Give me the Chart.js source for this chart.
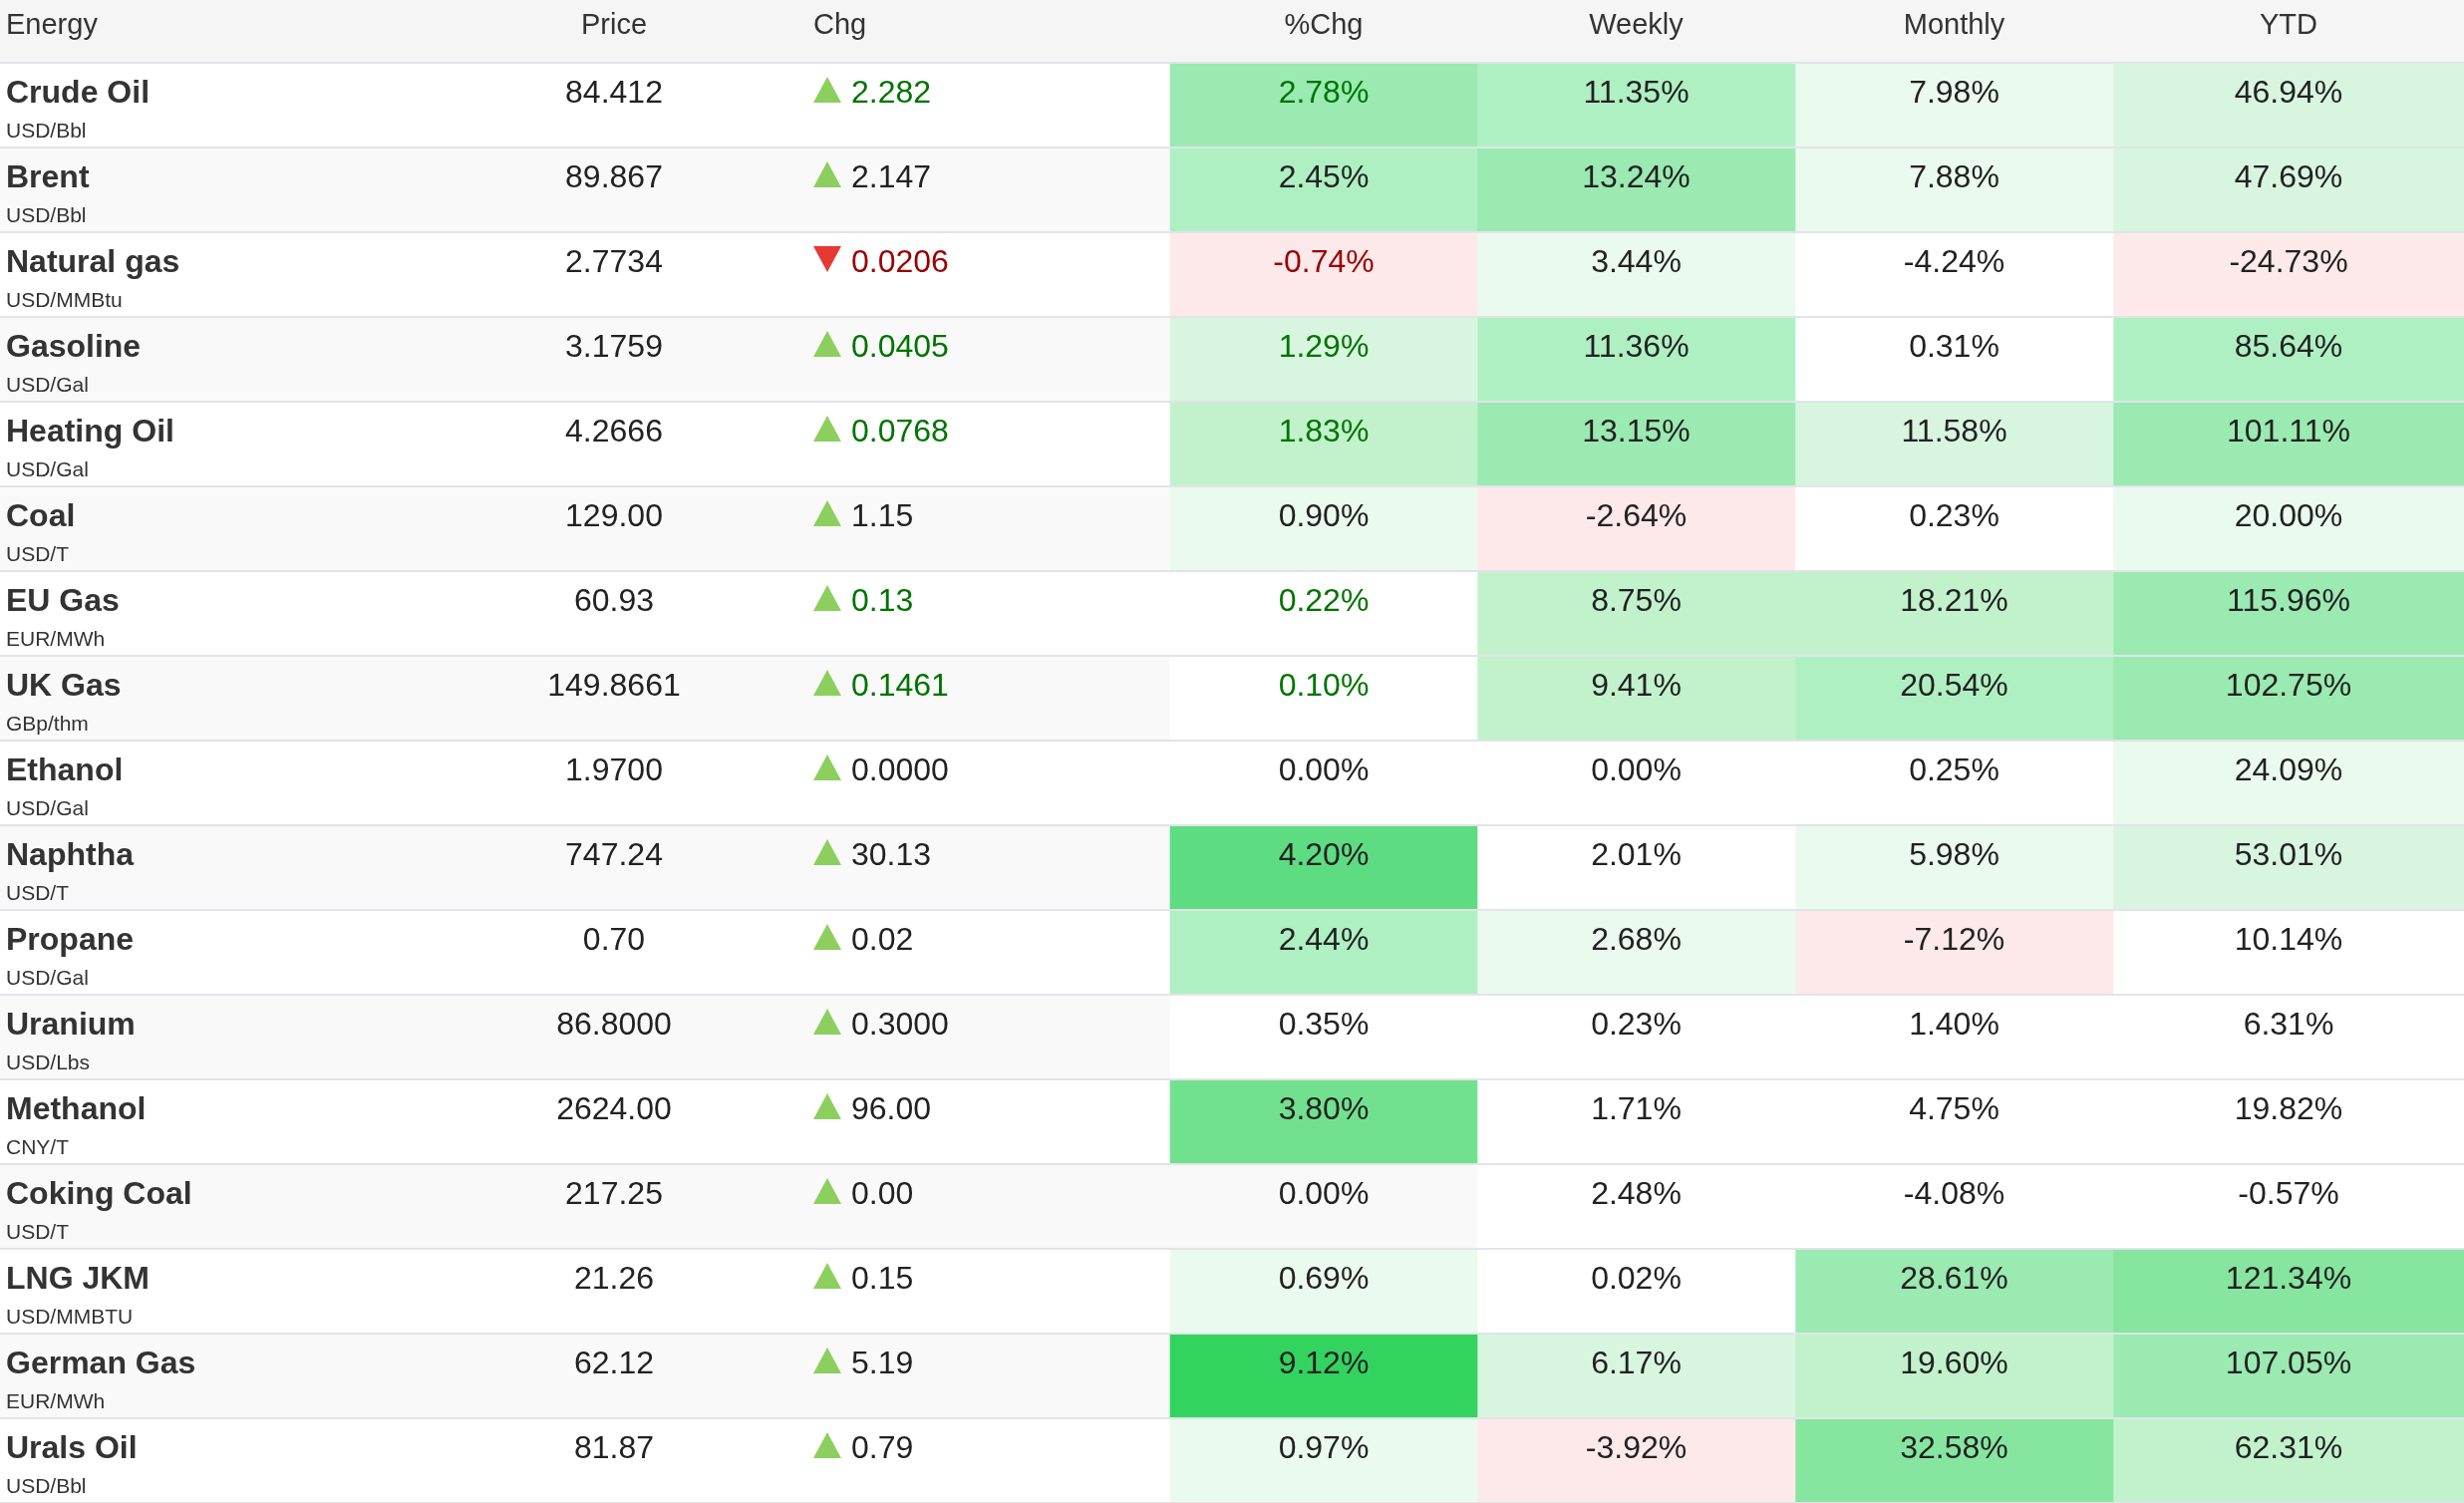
<!DOCTYPE html>
<html>

<head>
    <meta charset="UTF-8">
    <title>Energy</title>
    <script src="https://cdn.jsdelivr.net/npm/chart.js@4.4.1/dist/chart.umd.min.js"></script>
    <style>
        html, body { margin: 0; padding: 0; background: #fff; overflow: hidden; }
        #wrap { position: relative; width: 2472px; height: 1508px; }
    </style>
</head>

<body>
    <div id="wrap"><canvas id="energy-table"></canvas></div>
</body>

<script>
    var headers = ['Energy', 'Price', 'Chg', '%Chg', 'Weekly', 'Monthly', 'YTD'];
    var names = ['Crude Oil', 'Brent', 'Natural gas', 'Gasoline', 'Heating Oil', 'Coal', 'EU Gas', 'UK Gas',
        'Ethanol', 'Naphtha', 'Propane', 'Uranium', 'Methanol', 'Coking Coal', 'LNG JKM', 'German Gas', 'Urals Oil'];
    var units = ['USD/Bbl', 'USD/Bbl', 'USD/MMBtu', 'USD/Gal', 'USD/Gal', 'USD/T', 'EUR/MWh', 'GBp/thm',
        'USD/Gal', 'USD/T', 'USD/Gal', 'USD/Lbs', 'CNY/T', 'USD/T', 'USD/MMBTU', 'EUR/MWh', 'USD/Bbl'];
    var price = [84.412, 89.867, 2.7734, 3.1759, 4.2666, 129.00, 60.93, 149.8661,
        1.9700, 747.24, 0.70, 86.8000, 2624.00, 217.25, 21.26, 62.12, 81.87];
    var change = [2.282, 2.147, -0.0206, 0.0405, 0.0768, 1.15, 0.13, 0.1461,
        0.0000, 30.13, 0.02, 0.3000, 96.00, 0.00, 0.15, 5.19, 0.79];
    var decimals = [3, 3, 4, 4, 4, 2, 2, 4, 4, 2, 2, 4, 2, 2, 2, 2, 2];
    var pctChg = [2.78, 2.45, -0.74, 1.29, 1.83, 0.90, 0.22, 0.10, 0.00, 4.20, 2.44, 0.35, 3.80, 0.00, 0.69, 9.12, 0.97];
    var weekly = [11.35, 13.24, 3.44, 11.36, 13.15, -2.64, 8.75, 9.41, 0.00, 2.01, 2.68, 0.23, 1.71, 2.48, 0.02, 6.17, -3.92];
    var monthly = [7.98, 7.88, -4.24, 0.31, 11.58, 0.23, 18.21, 20.54, 0.25, 5.98, -7.12, 1.40, 4.75, -4.08, 28.61, 19.60, 32.58];
    var ytd = [46.94, 47.69, -24.73, 85.64, 101.11, 20.00, 115.96, 102.75, 24.09, 53.01, 10.14, 6.31, 19.82, -0.57, 121.34, 107.05, 62.31];
    // rows that were just updated get coloured Chg / %Chg text
    var fresh = [1, 0, 1, 1, 1, 0, 1, 1, 0, 0, 0, 0, 0, 0, 0, 0, 0];

    // layout
    var colWidths = [422, 388, 364, 308, 319, 319, 352];
    var colEdges = [0];
    colWidths.forEach(function (w, i) { colEdges.push(colEdges[i] + w); });
    var total = colEdges[colEdges.length - 1];
    var headerH = 63;

    var heatCols = [pctChg, weekly, monthly, ytd];
    var heatSteps = [0.5, 2.5, 5, 20];
    var greens = ['#ffffff', '#eafaee', '#d8f5df', '#c2f2cc', '#aff0c3', '#9aeab2',
        '#86e6a0', '#72e18f', '#5edc82', '#48d870', '#32d45f'];
    var pink = '#fde9ea';

    function cellColor(v, step) {
        if (v === 0) return 'rgba(0,0,0,0)';
        if (v <= -step) return pink;
        var lvl = Math.max(0, Math.floor(v / step));
        return greens[Math.min(lvl, greens.length - 1)];
    }

    var FONT = '"Liberation Sans", Arial, Helvetica, sans-serif';

    var datasets = heatCols.map(function (vals, k) {
        var c = 3 + k;
        return {
            label: headers[c],
            data: vals.map(function () { return [colEdges[c], colEdges[c + 1]]; }),
            backgroundColor: vals.map(function (v) { return cellColor(v, heatSteps[k]); }),
            order: 1
        };
    });
    datasets.push({
        label: 'rows',
        data: names.map(function () { return [0, total]; }),
        backgroundColor: names.map(function (n, i) { return i % 2 ? '#f9f9f9' : '#ffffff'; }),
        order: 2
    });

    function triangle(ctx, x, top, w, h, up, color) {
        ctx.beginPath();
        if (up) {
            ctx.moveTo(x, top + h); ctx.lineTo(x + w / 2, top); ctx.lineTo(x + w, top + h);
        } else {
            ctx.moveTo(x, top); ctx.lineTo(x + w, top); ctx.lineTo(x + w / 2, top + h);
        }
        ctx.closePath();
        ctx.fillStyle = color;
        ctx.fill();
    }

    var tableText = {
        id: 'tableText',
        afterDatasetsDraw: function (chart) {
            var ctx = chart.ctx;
            var xs = chart.scales.x, ys = chart.scales.y;
            var area = chart.chartArea;
            var rowH = ys.getPixelForValue(1) - ys.getPixelForValue(0);
            var px = function (v) { return xs.getPixelForValue(v); };
            var mid = function (c) { return px((colEdges[c] + colEdges[c + 1]) / 2); };

            ctx.save();
            // header
            ctx.fillStyle = '#f5f5f5';
            ctx.fillRect(0, 0, chart.width, area.top);
            ctx.fillStyle = '#333';
            ctx.font = '29px ' + FONT;
            ctx.textBaseline = 'alphabetic';
            headers.forEach(function (h, c) {
                if (c === 0 || c === 2) {
                    ctx.textAlign = 'left';
                    ctx.fillText(h, px(colEdges[c]) + 6, 34);
                } else {
                    ctx.textAlign = 'center';
                    ctx.fillText(h, mid(c), 34);
                }
            });

            // rows
            names.forEach(function (name, i) {
                var top = ys.getPixelForValue(i) - rowH / 2;
                var base = top + 40;
                var up = change[i] >= 0;
                var hot = fresh[i] ? (up ? '#007400' : '#9b0000') : '#222';

                ctx.textAlign = 'left';
                ctx.fillStyle = '#333';
                ctx.font = 'bold 32px ' + FONT;
                ctx.fillText(name, px(colEdges[0]) + 6, base);
                ctx.font = '21px ' + FONT;
                ctx.fillText(units[i], px(colEdges[0]) + 6, top + 75);

                ctx.font = '32px ' + FONT;
                ctx.fillStyle = '#222';
                ctx.textAlign = 'center';
                ctx.fillText(price[i].toFixed(decimals[i]), mid(1), base);

                triangle(ctx, px(colEdges[2]) + 6, top + 14, 28, 26, up, up ? '#8ccf5f' : '#e53935');
                ctx.textAlign = 'left';
                ctx.fillStyle = hot;
                ctx.fillText(Math.abs(change[i]).toFixed(decimals[i]), px(colEdges[2]) + 44, base);

                ctx.textAlign = 'center';
                heatCols.forEach(function (vals, k) {
                    ctx.fillStyle = k === 0 ? hot : '#222';
                    ctx.fillText(vals[i].toFixed(2) + '%', mid(3 + k), base);
                });
            });

            // separators
            ctx.fillStyle = '#e1e4e8';
            for (var i = 0; i <= names.length; i++) {
                var y = ys.getPixelForValue(0) - rowH / 2 + i * rowH;
                ctx.fillRect(area.left, Math.round(y) - 1, area.right - area.left, 2);
            }
            ctx.restore();
        }
    };

    var chart = new Chart(document.getElementById('energy-table'), {
        type: 'bar',
        data: {
            labels: names,
            datasets: datasets
        },
        options: {
            indexAxis: 'y',
            responsive: true,
            maintainAspectRatio: false,
            animation: false,
            events: [],
            layout: { padding: { top: headerH, left: 0, right: 0, bottom: 0 } },
            datasets: {
                bar: {
                    grouped: false,
                    barPercentage: 1,
                    categoryPercentage: 1,
                    borderWidth: 0
                }
            },
            scales: {
                x: { type: 'linear', min: 0, max: total, display: false },
                y: { type: 'category', display: false, offset: true }
            },
            plugins: {
                legend: { display: false },
                tooltip: { enabled: false }
            }
        },
        plugins: [tableText]
    });
</script>

</html>
